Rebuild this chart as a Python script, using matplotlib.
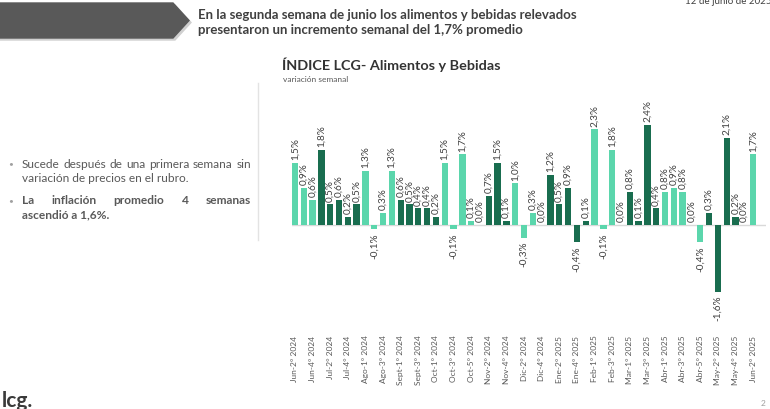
import numpy as np
import matplotlib
matplotlib.use("Agg")
import matplotlib.pyplot as plt
from matplotlib.patches import Polygon

plt.rcParams["font.family"] = ["Lato", "DejaVu Sans"]

# ---- data ------------------------------------------------------------------
values = [1.5, 0.9, 0.6, 1.8, 0.5, 0.6, 0.2, 0.5, 1.3, -0.1, 0.3, 1.3, 0.6, 0.5,
          0.4, 0.4, 0.2, 1.5, -0.1, 1.7, 0.1, 0.0, 0.7, 1.5, 0.1, 1.0, -0.3, 0.3,
          0.0, 1.2, 0.5, 0.9, -0.4, 0.1, 2.3, -0.1, 1.8, 0.0, 0.8, 0.1, 2.4, 0.4,
          0.8, 0.9, 0.8, 0.0, -0.4, 0.3, -1.6, 2.1, 0.2, 0.0, 1.7]
# weeks in each colour block (blocks alternate light / dark)
block_weeks = [3, 5, 4, 5, 5, 3, 4, 5, 4, 4, 5, 4, 2]
tick_labels = ["Jun-2° 2024", "Jun-4° 2024", "Jul-2° 2024", "Jul-4° 2024",
               "Ago-1° 2024", "Ago-3° 2024", "Sept-1° 2024", "Sept-3° 2024",
               "Oct-1° 2024", "Oct-3° 2024", "Oct-5° 2024", "Nov-2° 2024",
               "Nov-4° 2024", "Dic-2° 2024", "Dic-4° 2024", "Ene-2° 2025",
               "Ene-4° 2025", "Feb-1° 2025", "Feb-3° 2025", "Mar-1° 2025",
               "Mar-3° 2025", "Abr-1° 2025", "Abr-3° 2025", "Abr-5° 2025",
               "May-2° 2025", "May-4° 2025", "Jun-2° 2025"]

LIGHT = "#5BD6AC"
DARK = "#196D4F"
TXT = "#404040"

colors = []
for i, n in enumerate(block_weeks):
    colors += [LIGHT if i % 2 == 0 else DARK] * n

W, H = 770, 409
fig = plt.figure(figsize=(W / 100, H / 100), dpi=100)


def px(x, y):
    return x / W, 1 - y / H


# ---- header ----------------------------------------------------------------
shadow = Polygon([px(0, 5), px(175, 5), px(191, 22.5), px(175, 40), px(0, 40)],
                 closed=True, transform=fig.transFigure, color="#D0D0D0", zorder=0)
arrow = Polygon([px(0, 3), px(173, 3), px(189, 20.5), px(173, 38), px(0, 38)],
                closed=True, transform=fig.transFigure, color="#595959", zorder=1)
fig.add_artist(shadow)
fig.add_artist(arrow)
fig.text(*px(198, 15), "En la segunda semana de junio los alimentos y bebidas relevados",
         fontsize=9.5, fontweight="bold", color=TXT, va="center", ha="left")
fig.text(*px(198, 29.5), "presentaron un incremento semanal del 1,7% promedio",
         fontsize=9.5, fontweight="bold", color=TXT, va="center", ha="left")
fig.text(*px(772, 1), "12 de junio de 2025", fontsize=7, color=TXT, va="center", ha="right")

fig.text(*px(282, 65), "ÍNDICE LCG- Alimentos y Bebidas", fontsize=10.4,
         fontweight="bold", color="#333333", va="center", ha="left")
fig.text(*px(283, 80), "variación semanal", fontsize=6, color="#595959",
         va="center", ha="left")

fig.add_artist(plt.Line2D([258 / W, 258 / W], [1 - 83 / H, 1 - 240 / H],
                          transform=fig.transFigure, color="#E3E3E3", lw=1))

# ---- left bullets (justified lines) ---------------------------------------
fig.canvas.draw()
renderer = fig.canvas.get_renderer()
FS = 8.6


def justified(y, words, weight, x0=22, x1=251):
    arts = [fig.text(0, 1 - y / H, w, fontsize=FS, color="#595959", fontweight=weight,
                     va="center", ha="left") for w in words]
    widths = [a.get_window_extent(renderer).width for a in arts]
    gap = (x1 - x0 - sum(widths)) / (len(words) - 1)
    x = x0
    for a, w in zip(arts, widths):
        a.set_x(x / W)
        x += w + gap


def line(y, s, weight):
    fig.text(22 / W, 1 - y / H, s, fontsize=FS, color="#595959", fontweight=weight,
             va="center", ha="left")


fig.text(8 / W, 1 - 164 / H, "•", fontsize=6, color="#A0A0A0", va="center")
justified(164, "Sucede después de una primera semana sin".split(), "normal")
line(178, "variación de precios en el rubro.", "normal")
fig.text(8 / W, 1 - 201 / H, "•", fontsize=6, color="#A0A0A0", va="center")
justified(201, "La inflación promedio 4 semanas".split(), "bold")
line(215, "ascendió a 1,6%.", "bold")

# ---- logo & page number ----------------------------------------------------
fig.text(*px(2, 401), "lcg.", fontsize=15, fontweight="bold", color="#3A3A3A",
         va="center", ha="left")
fig.text(*px(763, 404), "2", fontsize=6, color="#A0A0A0", va="center", ha="center")

# ---- chart -----------------------------------------------------------------
ax = fig.add_axes([291.7 / W, 1 - 330 / H, (766 - 291.7) / W, (330 - 95) / H])
x = np.arange(len(values))
ax.bar(x, values, width=0.72, color=colors, zorder=2)
ax.axhline(0, color="#D9D9D9", lw=1, zorder=1)

for xi, v in zip(x, values):
    s = f"{v:.1f}%".replace(".", ",")
    if v < 0:
        ax.annotate(s, (xi, v), xytext=(0, -3), textcoords="offset points",
                    rotation=90, ha="center", va="top", fontsize=7.2, color=TXT)
    else:
        ax.annotate(s, (xi, v), xytext=(0, 2), textcoords="offset points",
                    rotation=90, ha="center", va="bottom", fontsize=7.2, color=TXT)

ax.set_xlim(-0.37, 53.46)
ax.set_ylim(-2.52, 3.125)
ax.set_xticks(x[::2])
ax.set_xticklabels(tick_labels, rotation=90, fontsize=6, color="#595959")
ax.tick_params(axis="x", length=0, pad=4)
ax.set_yticks([])
for sp in ax.spines.values():
    sp.set_visible(False)
ax.patch.set_alpha(0)

fig.savefig("out.png", dpi=100)
